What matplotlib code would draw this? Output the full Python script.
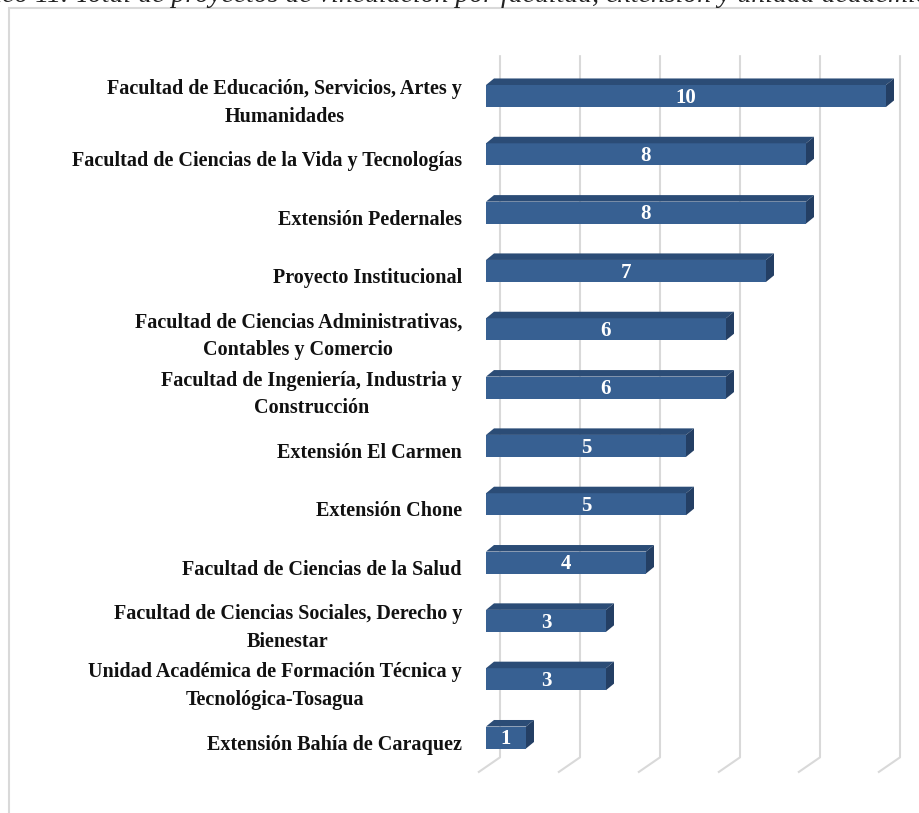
import matplotlib
matplotlib.use("Agg")
import matplotlib.pyplot as plt
from matplotlib.patches import Polygon, Rectangle

categories = [
    "Facultad de Educación, Servicios, Artes y\nHumanidades",
    "Facultad de Ciencias de la Vida y Tecnologías",
    "Extensión Pedernales",
    "Proyecto Institucional",
    "Facultad de Ciencias Administrativas,\nContables y Comercio",
    "Facultad de Ingeniería, Industria y\nConstrucción",
    "Extensión El Carmen",
    "Extensión Chone",
    "Facultad de Ciencias de la Salud",
    "Facultad de Ciencias Sociales, Derecho y\nBienestar",
    "Unidad Académica de Formación Técnica y\nTecnológica-Tosagua",
    "Extensión Bahía de Caraquez",
]
values = [10, 8, 8, 7, 6, 6, 5, 5, 4, 3, 3, 1]
grid_ticks = [0, 2, 4, 6, 8, 10]
caption = "Gráfico 11. Total de proyectos de vinculación por facultad, extensión y unidad académica"

front = "#376092"
top = "#2b4c76"
side = "#243f64"
gridc = "#d9d9d9"
serif = ["Liberation Serif", "DejaVu Serif"]

W, H = 920, 813
fig = plt.figure(figsize=(W / 100, H / 100), dpi=100)
fig.patch.set_facecolor("white")

# outer frame (runs off right/bottom edge)
fig.patches.append(Rectangle((9 / W, -0.1), 1.2, 1 - 8 / H + 0.1,
                             transform=fig.transFigure, fill=False,
                             edgecolor=gridc, linewidth=1.5))

# caption, cut off by the top edge like in the scan
capsize = 20
t = fig.text(0, 1 - 2 / H, caption, family=serif, style="italic",
             fontsize=capsize, va="baseline", ha="left", color="#222222")
fig.canvas.draw()
r = fig.canvas.get_renderer()
pre = fig.text(0, 0, "Gráfi", family=serif, style="italic", fontsize=capsize)
pw = pre.get_window_extent(r).width
pre.remove()
t.set_x((2 - pw) / W)

# plot area: 40 px per unit, 58.3 px per row
ax = fig.add_axes([450 / W, 23 / H, 460 / W, 750 / H])
ax.set_xlim(-0.9, 10.6)
ax.set_ylim(11.9, -0.96)
ax.axis("off")

bh = 0.377
dx, dy = 0.2, -0.112
gx = 0.35

for v in grid_ticks:
    ax.plot([v + gx, v + gx, v - 0.2], [-0.70, 11.34, 11.6],
            color=gridc, lw=1.5, zorder=1, solid_capstyle="butt")

ys = list(range(len(values)))
ax.barh(ys, values, height=bh, color=front, zorder=3, edgecolor="none")
for y, v in zip(ys, values):
    y0 = y - bh / 2
    y1 = y + bh / 2
    ax.add_patch(Polygon([(0, y0), (v, y0), (v + dx, y0 + dy), (dx, y0 + dy)],
                         closed=True, facecolor=top, edgecolor="none", zorder=3))
    ax.add_patch(Polygon([(v, y0), (v + dx, y0 + dy), (v + dx, y1 + dy), (v, y1)],
                         closed=True, facecolor=side, edgecolor="none", zorder=3))
    ax.text(v / 2, y + 0.03, str(v), color="white", fontweight="bold",
            family=serif, fontsize=15, ha="center", va="center", zorder=4)

for y, lab in zip(ys, categories):
    ax.text(-0.6, y + 0.12, lab, family=serif, fontweight="bold", fontsize=14.5,
            ha="right", va="center", multialignment="center",
            linespacing=1.5, color="#111111", clip_on=False)

fig.savefig("out.png", dpi=100)
